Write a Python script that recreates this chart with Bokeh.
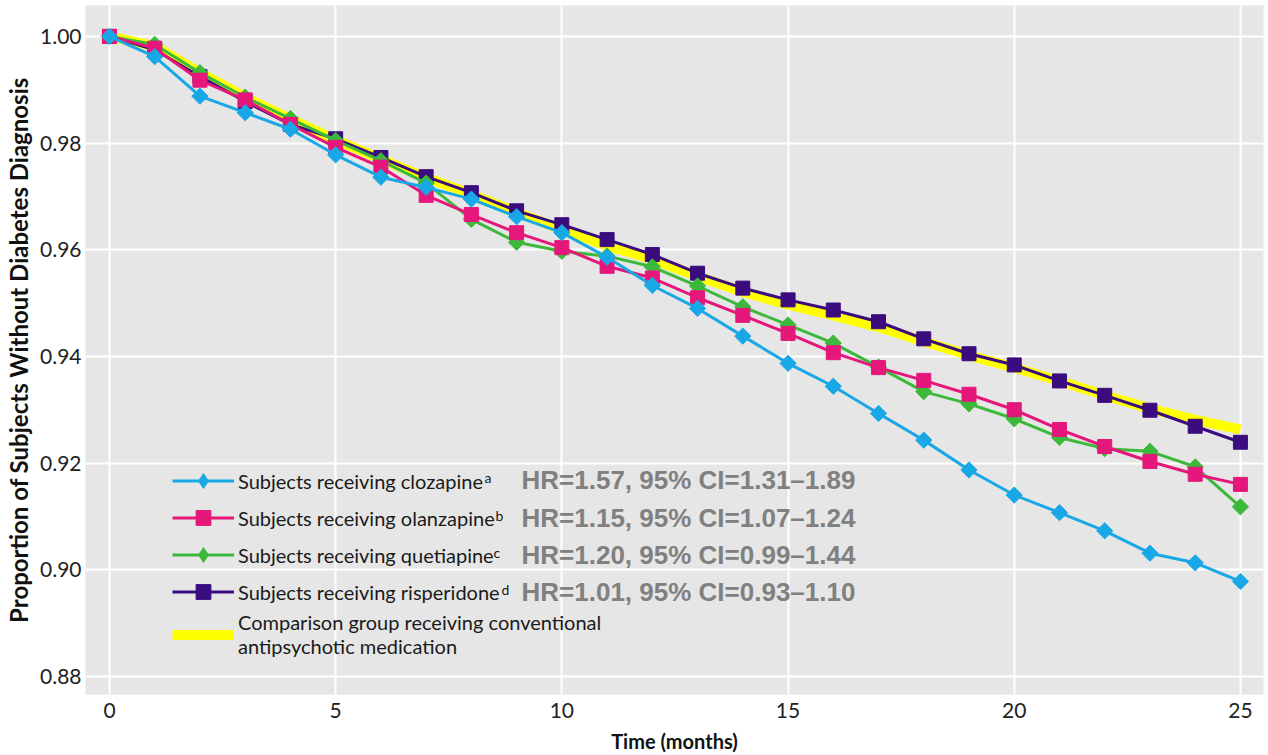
import math
from bokeh.plotting import figure
from bokeh.models import Range1d, Legend, LegendItem, Label, FixedTicker, NumeralTickFormatter
from bokeh.embed import file_html
from bokeh.resources import INLINE

# ---------------- data ----------------
months = list(range(26))

clozapine = [1.000, 0.9962, 0.9888, 0.9857, 0.9826, 0.9778, 0.9736, 0.9717, 0.9695, 0.9662,
             0.9632, 0.9586, 0.9533, 0.9490, 0.9438, 0.9387, 0.9344, 0.9293, 0.9243, 0.9187,
             0.9140, 0.9107, 0.9073, 0.9031, 0.9013, 0.8978]

olanzapine = [1.000, 0.9978, 0.9918, 0.9881, 0.9835, 0.9792, 0.9755, 0.9702, 0.9666, 0.9632,
              0.9604, 0.9569, 0.9547, 0.9510, 0.9477, 0.9443, 0.9407, 0.9379, 0.9355, 0.9329,
              0.9300, 0.9263, 0.9231, 0.9203, 0.9179, 0.9160]

quetiapine = [1.000, 0.9985, 0.9932, 0.9886, 0.9846, 0.9805, 0.9767, 0.9725, 0.9657, 0.9614,
              0.9597, 0.9588, 0.9568, 0.9532, 0.9493, 0.9459, 0.9425, 0.9380, 0.9334, 0.9311,
              0.9283, 0.9248, 0.9227, 0.9222, 0.9193, 0.9118]

risperidone = [1.000, 0.9975, 0.9925, 0.9878, 0.9835, 0.9808, 0.9773, 0.9737, 0.9707, 0.9673,
               0.9647, 0.9619, 0.9591, 0.9556, 0.9528, 0.9506, 0.9487, 0.9465, 0.9433, 0.9405,
               0.9384, 0.9354, 0.9327, 0.9299, 0.9269, 0.9239]

comparison = [1.000, 0.9982, 0.9932, 0.9886, 0.9845, 0.9806, 0.9770, 0.9735, 0.9704, 0.9670,
              0.9638, 0.9608, 0.9582, 0.9550, 0.9521, 0.9497, 0.9477, 0.9455, 0.9428, 0.9402,
              0.9379, 0.9354, 0.9327, 0.9302, 0.9281, 0.9263]

legend_labels = ["Subjects receiving clozapine",
                 "Subjects receiving olanzapine",
                 "Subjects receiving quetiapine",
                 "Subjects receiving risperidone",
                 "Comparison group receiving conventional\nantipsychotic medication"]
superscripts = ["a", "b", "c", "d"]
hr_texts = ["HR=1.57, 95% CI=1.31\u20131.89",
            "HR=1.15, 95% CI=1.07\u20131.24",
            "HR=1.20, 95% CI=0.99\u20131.44",
            "HR=1.01, 95% CI=0.93\u20131.10"]

x_ticks = [0, 5, 10, 15, 20, 25]
y_ticks = [0.88, 0.90, 0.92, 0.94, 0.96, 0.98, 1.00]

x_label = "Time (months)"
y_label = "Proportion of Subjects Without Diabetes Diagnosis"

# ---------------- styling ----------------
C_CLOZ = "#19a8e6"
C_OLAN = "#e5177b"
C_QUET = "#3cb93a"
C_RISP = "#3a0c7e"
C_COMP = "#ffff00"

FONT = "Lato"

p = figure(width=1268, height=755, output_backend="svg", toolbar_location=None,
           x_range=Range1d(-0.53, 25.51), y_range=Range1d(0.8766, 1.0058),
           min_border_left=85, min_border_right=5, min_border_top=5, min_border_bottom=58)

p.background_fill_color = "#e6e6e6"
p.border_fill_color = "white"
p.outline_line_color = None

p.xgrid.grid_line_color = "white"
p.ygrid.grid_line_color = "white"
p.xgrid.grid_line_width = 2
p.ygrid.grid_line_width = 2

p.xaxis.ticker = FixedTicker(ticks=x_ticks)
p.yaxis.ticker = FixedTicker(ticks=y_ticks)
p.yaxis.formatter = NumeralTickFormatter(format="0.00")

for ax in (p.xaxis[0], p.yaxis[0]):
    ax.axis_line_color = None
    ax.major_tick_line_color = None
    ax.minor_tick_line_color = None
    ax.major_tick_out = 0
    ax.major_tick_in = 0
    ax.minor_tick_out = 0
    ax.minor_tick_in = 0
    ax.major_label_text_font = FONT
    ax.major_label_text_font_size = "21px"
    ax.major_label_text_color = "#222222"
    ax.axis_label_text_font = FONT
    ax.axis_label_text_font_style = "bold"
    ax.axis_label_text_color = "#111111"

p.xaxis.axis_label = x_label
p.yaxis.axis_label = y_label
p.xaxis.axis_label_text_font_size = "20px"
p.yaxis.axis_label_text_font_size = "24px"
p.xaxis.major_label_standoff = 8
p.xaxis.axis_label_standoff = 8
p.yaxis.major_label_standoff = 4
p.yaxis.axis_label_standoff = 4

ROT = math.pi / 4

# comparison (thick yellow, no markers)
r_comp = p.line(months, comparison, line_color=C_COMP, line_width=10)

# risperidone
r_risp_l = p.line(months, risperidone, line_color=C_RISP, line_width=3)
r_risp_m = p.scatter(months, risperidone, marker="square", size=14,
                     fill_color=C_RISP, line_color=C_RISP)
# quetiapine
r_quet_l = p.line(months, quetiapine, line_color=C_QUET, line_width=3)
r_quet_m = p.scatter(months, quetiapine, marker="square", size=11.5, angle=ROT,
                     fill_color=C_QUET, line_color=C_QUET)
# olanzapine
r_olan_l = p.line(months, olanzapine, line_color=C_OLAN, line_width=3)
r_olan_m = p.scatter(months, olanzapine, marker="square", size=14,
                     fill_color=C_OLAN, line_color=C_OLAN)
# clozapine
r_cloz_l = p.line(months, clozapine, line_color=C_CLOZ, line_width=3)
r_cloz_m = p.scatter(months, clozapine, marker="square", size=11.5, angle=ROT,
                     fill_color=C_CLOZ, line_color=C_CLOZ)

# legend-only diamond glyphs (legend markers are drawn unrotated); hidden in the plot
lg_cloz = p.scatter(months[:1], clozapine[:1], marker="diamond",
                    fill_color=C_CLOZ, line_color=C_CLOZ, visible=False)
lg_quet = p.scatter(months[:1], quetiapine[:1], marker="diamond",
                    fill_color=C_QUET, line_color=C_QUET, visible=False)

items = [LegendItem(label=legend_labels[0], renderers=[r_cloz_l, lg_cloz]),
         LegendItem(label=legend_labels[1], renderers=[r_olan_l, r_olan_m]),
         LegendItem(label=legend_labels[2], renderers=[r_quet_l, lg_quet]),
         LegendItem(label=legend_labels[3], renderers=[r_risp_l, r_risp_m]),
         LegendItem(label=legend_labels[4], renderers=[r_comp])]

legend = Legend(items=items, location=(87, 36), glyph_width=62, glyph_height=37,
                label_height=20, label_width=10, spacing=0, padding=0, margin=0,
                label_standoff=4, border_line_color=None, background_fill_alpha=0,
                inactive_fill_alpha=0,
                label_text_font=FONT, label_text_font_size="20px",
                label_text_color="#1a1a1a", label_text_baseline="middle")
p.add_layout(legend)

# superscripts and hazard-ratio annotations (screen units, relative to the frame)
FRAME_LEFT = 85
FRAME_BOTTOM = 697
row_y = [482, 520, 557, 594]
sup_x = [484, 495, 493, 501]
for i in range(4):
    p.add_layout(Label(x=sup_x[i] - FRAME_LEFT, y=FRAME_BOTTOM - row_y[i] + 2, x_units="screen", y_units="screen",
                       text=superscripts[i], text_font=FONT, text_font_size="14px",
                       text_color="#1a1a1a", text_baseline="alphabetic"))
    p.add_layout(Label(x=521 - FRAME_LEFT, y=FRAME_BOTTOM - row_y[i], x_units="screen", y_units="screen",
                       text=hr_texts[i], text_font="Liberation Sans", text_font_style="bold",
                       text_font_size="26px", text_color="#808080", text_baseline="middle"))

open("out.html", "w").write(file_html(p, INLINE))
